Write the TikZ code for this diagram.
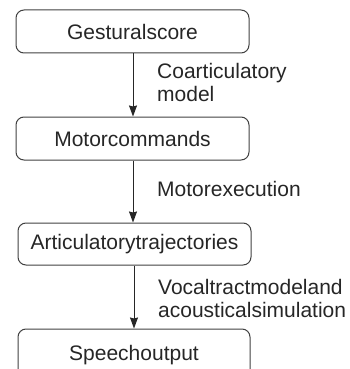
\documentclass[tikz,border=0pt]{standalone}
\usepackage{fontspec}
\setmainfont{Liberation Sans}
\usetikzlibrary{arrows.meta}
\begin{document}
\begin{tikzpicture}[x=1pt,y=-1pt,
  stepbox/.style={draw=black!75,line width=1pt,rounded corners=8pt,minimum width=233pt,inner sep=0pt,font=\fontsize{21}{23}\selectfont,text=black!85},
  conn/.style={draw=black!85,line width=1pt,-{Stealth[length=11pt,width=8pt,inset=1pt]}},
  lbl/.style={anchor=west,align=left,inner sep=0pt,font=\fontsize{21}{22.5}\selectfont,text=black!85}]
\clip (0,0) rectangle (350,369);
\useasboundingbox (0,0) rectangle (350,369);
\node[stepbox,minimum height=43pt] (g) at (132.5,31.5) {Gesturalscore};
\node[stepbox,minimum height=43pt] (m) at (132.5,138.5) {Motorcommands};
\node[stepbox,minimum height=42pt] (a) at (134.5,244) {Articulatorytrajectories};
\node[stepbox,minimum height=52pt,minimum width=232pt] (s) at (134,355) {\raisebox{1.5pt}{Speechoutput}};
\draw[conn] (g.south -| 133,0) -- (m.north -| 133,0);
\draw[conn] (m.south -| 133,0) -- (a.north -| 133,0);
\draw[conn] (a.south -| 134,0) -- (s.north -| 134,0);
\node[lbl] (l1) at (157,82.5) {Coarticulatory\\model};
\node[lbl] (l2) at (157,189) {Motorexecution};
\node[lbl] (l3) at (158,298.5) {Vocaltractmodeland\\acousticalsimulation};
\end{tikzpicture}
\end{document}
